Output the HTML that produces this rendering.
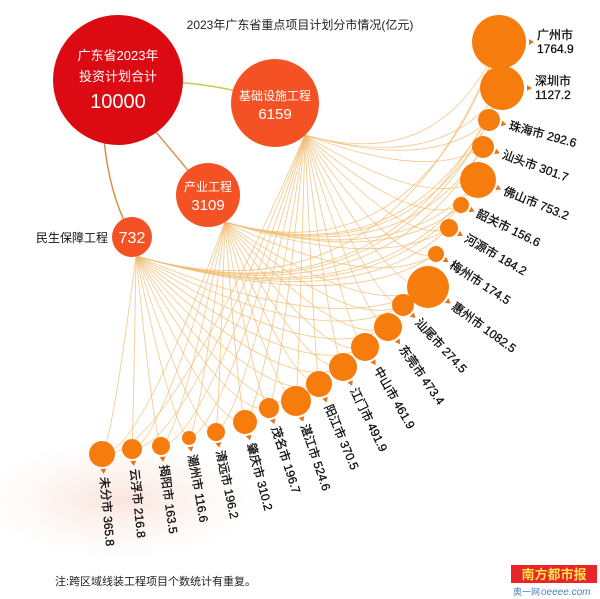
<!DOCTYPE html>
<html><head><meta charset="utf-8">
<style>
html,body{margin:0;padding:0;background:#fff;}
svg{display:block;font-family:"Liberation Sans","Noto Sans CJK SC",sans-serif;}
</style></head>
<body>
<svg id="s" width="600" height="599" viewBox="0 0 600 599" xmlns="http://www.w3.org/2000/svg">
<defs>
<radialGradient id="rg" cx="50%" cy="50%" r="50%">
<stop offset="0" stop-color="#f6c9b8" stop-opacity="0.5"/><stop offset="1" stop-color="#fbe3da" stop-opacity="0"/>
</radialGradient>
</defs>
<ellipse cx="120" cy="500" rx="140" ry="60" fill="url(#rg)"/>
<g id="lines" fill="none" stroke="#f0bb6e" stroke-width="0.9" stroke-opacity="0.75"></g>
<path d="M118,80 Q220,80 274,103" stroke="#c9c84a" stroke-width="1.5" fill="none"/>
<path d="M150,125 Q180,160 208,195" stroke="#d8924a" stroke-width="1.5" fill="none"/>
<path d="M104,140 Q110,200 133,237" stroke="#d8924a" stroke-width="1.5" fill="none"/>
<circle cx="118" cy="80" r="65" fill="#dc0a12"/>
<circle cx="275" cy="103" r="44" fill="#f45224"/>
<circle cx="208" cy="195" r="32" fill="#f45224"/>
<circle cx="132" cy="237" r="20" fill="#f45224"/>
<g fill="#fff" text-anchor="middle">
<text x="118" y="60" font-size="13">广东省2023年</text>
<text x="118" y="81" font-size="13">投资计划合计</text>
<text x="118" y="108" font-size="20">10000</text>
<text x="275" y="100" font-size="12">基础设施工程</text>
<text x="275" y="119" font-size="15">6159</text>
<text x="208" y="191" font-size="12">产业工程</text>
<text x="208" y="210" font-size="15">3109</text>
<text x="132" y="243" font-size="16">732</text>
</g>
<text x="108" y="242" font-size="12" fill="#111" text-anchor="end">民生保障工程</text>
<text x="300" y="29" font-size="12" fill="#222" text-anchor="middle">2023年广东省重点项目计划分市情况(亿元)</text>
<g id="cities"></g>
<text x="55" y="585" font-size="11" fill="#222">注:跨区域线装工程项目个数统计有重复。</text>
<rect x="511" y="565" width="86" height="18" fill="#e8262a"/>
<text x="554" y="579" font-size="13" fill="#ffe14a" text-anchor="middle" font-weight="bold">南方都市报</text>
<text x="513" y="595" font-size="9" fill="#4a7fc0">奥一网</text>
<text x="541" y="595" font-size="10" fill="#4a7fc0" font-style="italic">oeeee.com</text>
</svg>
<script>
var C=[
["广州市","1764.9",499,42,27,0,1],
["深圳市","1127.2",502,88,22,0,1],
["珠海市","292.6",489,120,11,15],
["汕头市","301.7",483,147,11,20],
["佛山市","753.2",478,180,18,22],
["韶关市","156.6",461,205,8,26],
["河源市","184.2",449,228,9,30],
["梅州市","174.5",436,254,8,33],
["惠州市","1082.5",428,287,21,36],
["汕尾市","274.5",403,305,11,47],
["东莞市","473.4",388,327,14,55],
["中山市","461.9",365,347,14,60],
["江门市","491.9",343,367,14,64],
["阳江市","370.5",319,384,13,67],
["湛江市","524.6",296,401,15,71],
["茂名市","196.7",269,408,10,72],
["肇庆市","310.2",245,422,12,75],
["清远市","196.2",216,432,9,78],
["潮州市","116.6",189,438,7,80],
["揭阳市","163.5",161,446,9,82],
["云浮市","216.8",132,449,10,84],
["未分市","365.8",102,454,13,85]];
var S=[[305,135],[225,222],[136,256]];
var ns="http://www.w3.org/2000/svg",L=document.getElementById("lines"),G=document.getElementById("cities");
function el(t,a,p,txt){var e=document.createElementNS(ns,t);for(var k in a)e.setAttribute(k,a[k]);if(txt)e.textContent=txt;p.appendChild(e);return e;}
S.forEach(function(s){C.forEach(function(c){
var dx=c[2]-s[0],dy=c[3]-s[1];
var qx=s[0]+0.7*dx,qy=s[1]+Math.max(dy,0)*0.9+0.2*Math.abs(dx);
el("path",{d:"M"+s[0]+","+s[1]+" Q"+qx+","+qy+" "+c[2]+","+c[3]},L);
});});
C.forEach(function(c){
el("circle",{cx:c[2],cy:c[3],r:c[4],fill:"#f77c0e"},G);
if(c[6]){
var x=c[2]+c[4]+3,y=c[3];
el("path",{d:"M"+x+","+(y-3)+" L"+(x+5)+","+y+" L"+x+","+(y+3)+"Z",fill:"#e8731a"},G);
el("text",{x:x+8,y:y-3,"font-size":12,fill:"#111",stroke:"#111","stroke-width":0.3},G,c[0]);
el("text",{x:x+8,y:y+11,"font-size":12,fill:"#111",stroke:"#111","stroke-width":0.3},G,c[1]);
}else{
var a=c[5]*Math.PI/180,d=c[4]+2;
var x=c[2]+Math.cos(a)*d,y=c[3]+Math.sin(a)*d;
var g=el("g",{transform:"translate("+x+","+y+") rotate("+c[5]+")"},G);
el("path",{d:"M0,-3 L5,0 L0,3Z",fill:"#e8731a"},g);
el("text",{x:8,y:4,"font-size":12,fill:"#111",stroke:"#111","stroke-width":0.3},g,c[0]+"  "+c[1]);
}
});
</script>
</body></html>
